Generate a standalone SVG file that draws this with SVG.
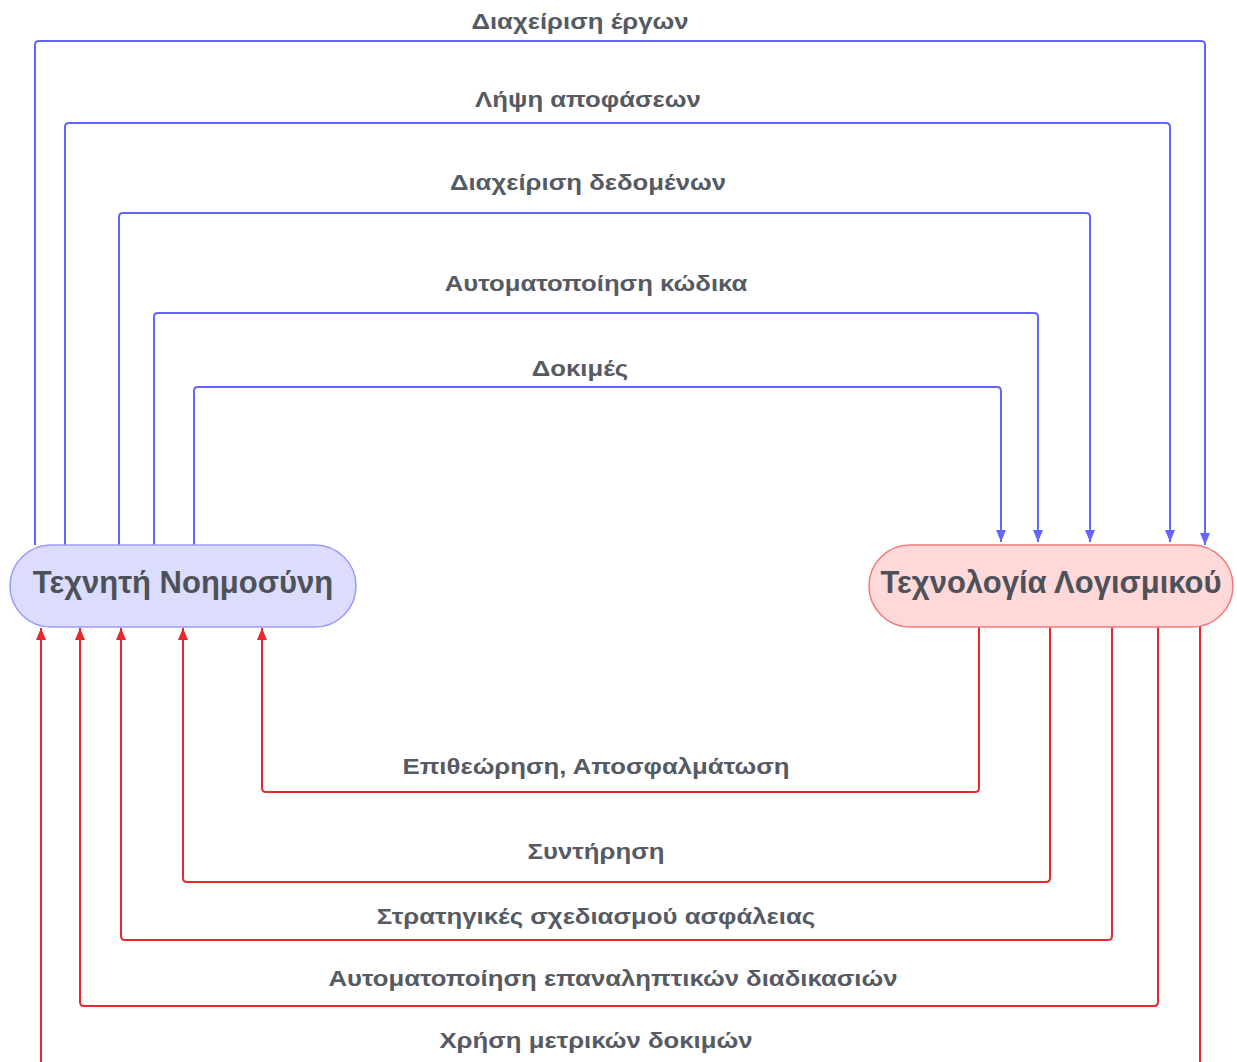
<svg xmlns="http://www.w3.org/2000/svg" width="1237" height="1062" viewBox="0 0 1237 1062">
<style>
.lbl{font-family:"Liberation Sans",Arial,sans-serif;font-weight:bold;font-size:22px;fill:#555a63;text-anchor:middle}
.ntx{font-family:"Liberation Sans",Arial,sans-serif;font-weight:bold;font-size:31px;fill:#4d5159;text-anchor:middle}
.b{fill:none;stroke:#6464ff;stroke-width:2;stroke-linejoin:round}
.r{fill:none;stroke:#e8282c;stroke-width:2;stroke-linejoin:round}
</style>
<defs>
<marker id="ab" viewBox="0 0 12 10" refX="12" refY="5" markerWidth="12" markerHeight="10" markerUnits="userSpaceOnUse" orient="auto">
<path d="M0,0 L12,5 L0,10 Z" fill="#6464ff"/>
</marker>
<marker id="ar" viewBox="0 0 12 10" refX="12" refY="5" markerWidth="12" markerHeight="10" markerUnits="userSpaceOnUse" orient="auto">
<path d="M0,0 L12,5 L0,10 Z" fill="#e8282c"/>
</marker>
</defs>
<rect width="1237" height="1062" fill="#ffffff"/>
<g id="connectors">
<path class="b" d="M35,545 V45 Q35,41 39,41 H1201 Q1205,41 1205,45 V545" marker-end="url(#ab)"/>
<path class="b" d="M65,545 V127 Q65,123 69,123 H1166 Q1170,123 1170,127 V542" marker-end="url(#ab)"/>
<path class="b" d="M119,545 V217 Q119,213 123,213 H1086 Q1090,213 1090,217 V542" marker-end="url(#ab)"/>
<path class="b" d="M154,545 V317 Q154,313 158,313 H1034 Q1038,313 1038,317 V542" marker-end="url(#ab)"/>
<path class="b" d="M194,545 V391 Q194,387 198,387 H997 Q1001,387 1001,391 V542" marker-end="url(#ab)"/>
<path class="r" d="M979,627 V788 Q979,792 975,792 H266 Q262,792 262,788 V628" marker-end="url(#ar)"/>
<path class="r" d="M1050,627 V878 Q1050,882 1046,882 H187 Q183,882 183,878 V628" marker-end="url(#ar)"/>
<path class="r" d="M1112,627 V936 Q1112,940 1108,940 H125 Q121,940 121,936 V628" marker-end="url(#ar)"/>
<path class="r" d="M1158,627 V1002 Q1158,1006 1154,1006 H84 Q80,1006 80,1002 V628" marker-end="url(#ar)"/>
<path class="r" d="M1200,625 V1070"/>
<path class="r" d="M41,1070 V628" marker-end="url(#ar)"/>
<text class="lbl" transform="translate(580,29) scale(1.17,1)">Διαχείριση έργων</text>
<text class="lbl" transform="translate(588,107) scale(1.17,1)">Λήψη αποφάσεων</text>
<text class="lbl" transform="translate(588,190) scale(1.17,1)">Διαχείριση δεδομένων</text>
<text class="lbl" transform="translate(596,291) scale(1.17,1)">Αυτοματοποίηση κώδικα</text>
<text class="lbl" transform="translate(580,376) scale(1.17,1)">Δοκιμές</text>
<text class="lbl" transform="translate(596,774) scale(1.17,1)">Επιθεώρηση, Αποσφαλμάτωση</text>
<text class="lbl" transform="translate(596,859) scale(1.17,1)">Συντήρηση</text>
<text class="lbl" transform="translate(596,924) scale(1.17,1)">Στρατηγικές σχεδιασμού ασφάλειας</text>
<text class="lbl" transform="translate(613,986) scale(1.17,1)">Αυτοματοποίηση επαναληπτικών διαδικασιών</text>
<text class="lbl" transform="translate(596,1048) scale(1.17,1)">Χρήση μετρικών δοκιμών</text>
</g>
<g id="node-ai">
<rect x="10" y="545" width="346" height="82" rx="41" fill="#dcdcfc" stroke="#9a9aff" stroke-width="1.5"/>
<text class="ntx" x="183" y="593">Τεχνητή Νοημοσύνη</text>
</g>
<g id="node-se">
<rect x="869" y="545" width="364" height="82" rx="41" fill="#ffd9d9" stroke="#f07a7a" stroke-width="1.5"/>
<text class="ntx" x="1051" y="593">Τεχνολογία Λογισμικού</text>
</g>
</svg>
